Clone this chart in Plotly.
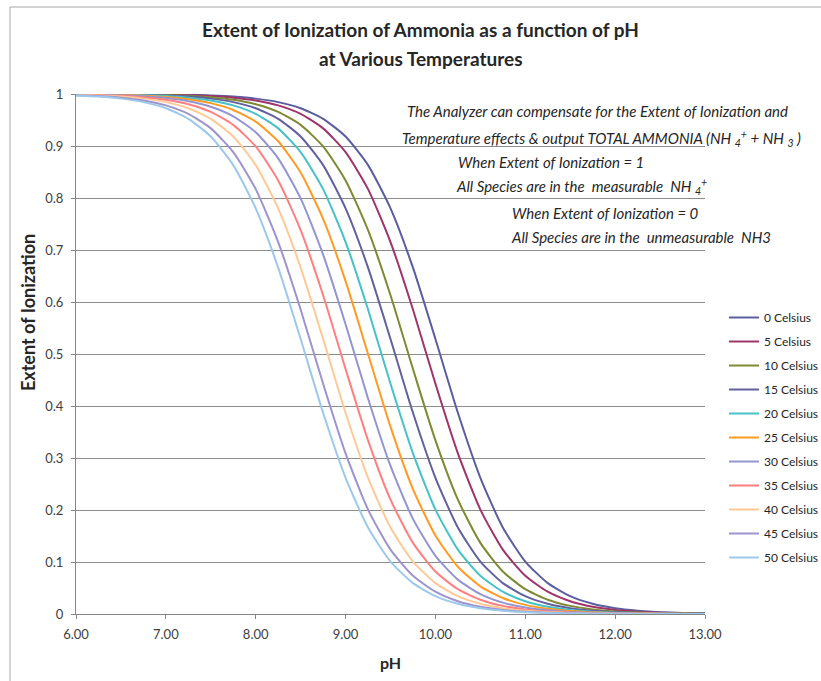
import plotly.graph_objects as go

# ---------------- data ----------------
ph = [6.00, 6.25, 6.50, 6.75, 7.00, 7.25, 7.50, 7.75, 8.00, 8.25, 8.50, 8.75,
      9.00, 9.25, 9.50, 9.75, 10.00, 10.25, 10.50, 10.75, 11.00, 11.25, 11.50,
      11.75, 12.00, 12.25, 12.50, 12.75, 13.00]

series_names = ["0 Celsius", "5 Celsius", "10 Celsius", "15 Celsius", "20 Celsius",
                "25 Celsius", "30 Celsius", "35 Celsius", "40 Celsius", "45 Celsius",
                "50 Celsius"]

c0 = [0.9999, 0.9998, 0.9997, 0.9995, 0.9991, 0.9984, 0.9972, 0.9950, 0.9911, 0.9844,
      0.9726, 0.9523, 0.9182, 0.8632, 0.7801, 0.6661, 0.5288, 0.3869, 0.2619, 0.1663,
      0.1009, 0.0594, 0.0343, 0.0196, 0.0111, 0.0063, 0.0035, 0.0020, 0.0011]
c5 = [0.9999, 0.9998, 0.9996, 0.9993, 0.9987, 0.9978, 0.9960, 0.9930, 0.9876, 0.9781,
      0.9617, 0.9339, 0.8882, 0.8171, 0.7153, 0.5855, 0.4427, 0.3088, 0.2008, 0.1238,
      0.0736, 0.0428, 0.0245, 0.0139, 0.0079, 0.0045, 0.0025, 0.0014, 0.0008]
c10 = [0.9998, 0.9996, 0.9994, 0.9989, 0.9980, 0.9965, 0.9937, 0.9889, 0.9804, 0.9657,
       0.9406, 0.8991, 0.8337, 0.7381, 0.6131, 0.4712, 0.3339, 0.2199, 0.1368, 0.0818,
       0.0477, 0.0274, 0.0156, 0.0089, 0.0050, 0.0028, 0.0016, 0.0009, 0.0005]
c15 = [0.9997, 0.9995, 0.9991, 0.9984, 0.9972, 0.9950, 0.9911, 0.9844, 0.9726, 0.9523,
       0.9182, 0.8632, 0.7801, 0.6661, 0.5288, 0.3869, 0.2619, 0.1663, 0.1009, 0.0594,
       0.0343, 0.0196, 0.0111, 0.0063, 0.0035, 0.0020, 0.0011, 0.0006, 0.0004]
c20 = [0.9996, 0.9993, 0.9987, 0.9978, 0.9960, 0.9930, 0.9876, 0.9781, 0.9617, 0.9339,
       0.8882, 0.8171, 0.7153, 0.5855, 0.4427, 0.3088, 0.2008, 0.1238, 0.0736, 0.0428,
       0.0245, 0.0139, 0.0079, 0.0045, 0.0025, 0.0014, 0.0008, 0.0004, 0.0003]
c25 = [0.9994, 0.9990, 0.9982, 0.9968, 0.9944, 0.9901, 0.9825, 0.9693, 0.9468, 0.9091,
       0.8490, 0.7597, 0.6401, 0.5000, 0.3599, 0.2403, 0.1510, 0.0909, 0.0532, 0.0307,
       0.0175, 0.0099, 0.0056, 0.0032, 0.0018, 0.0010, 0.0006, 0.0003, 0.0002]
c30 = [0.9992, 0.9986, 0.9975, 0.9955, 0.9921, 0.9861, 0.9755, 0.9572, 0.9264, 0.8762,
       0.7992, 0.6912, 0.5573, 0.4145, 0.2847, 0.1829, 0.1118, 0.0661, 0.0383, 0.0219,
       0.0124, 0.0070, 0.0040, 0.0022, 0.0013, 0.0007, 0.0004, 0.0002, 0.0001]
c35 = [0.9989, 0.9980, 0.9965, 0.9937, 0.9889, 0.9804, 0.9657, 0.9406, 0.8991, 0.8337,
       0.7381, 0.6131, 0.4712, 0.3339, 0.2199, 0.1368, 0.0818, 0.0477, 0.0274, 0.0156,
       0.0089, 0.0050, 0.0028, 0.0016, 0.0009, 0.0005, 0.0003, 0.0002, 0.0001]
c40 = [0.9984, 0.9972, 0.9950, 0.9911, 0.9844, 0.9726, 0.9523, 0.9182, 0.8632, 0.7801,
       0.6661, 0.5288, 0.3869, 0.2619, 0.1663, 0.1009, 0.0594, 0.0343, 0.0196, 0.0111,
       0.0063, 0.0035, 0.0020, 0.0011, 0.0006, 0.0004, 0.0002, 0.0001, 0.0001]
c45 = [0.9978, 0.9960, 0.9930, 0.9876, 0.9781, 0.9617, 0.9339, 0.8882, 0.8171, 0.7153,
       0.5855, 0.4427, 0.3088, 0.2008, 0.1238, 0.0736, 0.0428, 0.0245, 0.0139, 0.0079,
       0.0045, 0.0025, 0.0014, 0.0008, 0.0004, 0.0003, 0.0001, 0.0001, 0.0000]
c50 = [0.9972, 0.9950, 0.9911, 0.9844, 0.9726, 0.9523, 0.9182, 0.8632, 0.7801, 0.6661,
       0.5288, 0.3869, 0.2619, 0.1663, 0.1009, 0.0594, 0.0343, 0.0196, 0.0111, 0.0063,
       0.0035, 0.0020, 0.0011, 0.0006, 0.0004, 0.0002, 0.0001, 0.0001, 0.0000]

series_values = [c0, c5, c10, c15, c20, c25, c30, c35, c40, c45, c50]

x_ticks = [6, 7, 8, 9, 10, 11, 12, 13]
x_tick_labels = ["6.00", "7.00", "8.00", "9.00", "10.00", "11.00", "12.00", "13.00"]
y_ticks = [0, 0.1, 0.2, 0.3, 0.4, 0.5, 0.6, 0.7, 0.8, 0.9, 1]
y_tick_labels = ["0", "0.1", "0.2", "0.3", "0.4", "0.5", "0.6", "0.7", "0.8", "0.9", "1"]

# ---------------- styling ----------------
colors = ["#5C5CA0", "#9E3468", "#7E8A32", "#62609E", "#45C1C8", "#FF9A22",
          "#9494D2", "#FF7F80", "#FFC996", "#9D93CD", "#9CC8EA"]

FONT = "Lato, 'Open Sans', sans-serif"
W, H = 821, 681
ML, MR, MT, MB = 76, 116, 94, 67
PW, PH = W - ML - MR, H - MT - MB


def px(x):
    return (x - ML) / PW


def py(y):
    return (H - MB - y) / PH


fig = go.Figure()
for name, vals, col in zip(series_names, series_values, colors):
    fig.add_trace(go.Scatter(
        x=ph, y=vals, mode="lines", name=name, legendgroup=name,
        line=dict(color=col, width=2, shape="spline", smoothing=0.6),
    ))

annotations = []
# title
annotations.append(dict(text="<b>Extent of Ionization of Ammonia as a function of pH</b>",
                        x=px(420), y=py(29), xref="paper", yref="paper", showarrow=False,
                        xanchor="center", yanchor="middle",
                        font=dict(family=FONT, size=19, color="#262626")))
annotations.append(dict(text="<b>at Various Temperatures</b>",
                        x=px(420), y=py(58), xref="paper", yref="paper", showarrow=False,
                        xanchor="center", yanchor="middle",
                        font=dict(family=FONT, size=19, color="#262626")))
# y-axis title (sits above the plot's centre, as in the reference)
annotations.append(dict(text="<b>Extent of Ionization</b>", textangle=-90,
                        x=px(28), y=py(313), xref="paper", yref="paper", showarrow=False,
                        xanchor="center", yanchor="middle",
                        font=dict(family=FONT, size=18, color="#262626")))

notes = [
    ("<i>The Analyzer can compensate for the Extent of Ionization and</i>", 405, 111),
    ("<i>Temperature effects &amp; output TOTAL AMMONIA (NH <sub>4</sub><sup>+</sup> + NH <sub>3</sub> )</i>", 400, 138),
    ("<i>When Extent of Ionization = 1</i>", 456, 162),
    ("<i>All Species are in the  measurable  NH <sub>4</sub><sup>+</sup></i>", 454, 186),
    ("<i>When Extent of Ionization = 0</i>", 510, 213),
    ("<i>All Species are in the  unmeasurable  NH3</i>", 509, 237),
]
for txt, xx, yy in notes:
    annotations.append(dict(text=txt, x=px(xx), y=py(yy), xref="paper", yref="paper",
                            showarrow=False, xanchor="left", yanchor="middle",
                            font=dict(family=FONT, size=15, color="#262626")))

shapes = [
    dict(type="line", xref="paper", yref="paper", x0=px(10), x1=px(821), y0=py(7), y1=py(7),
         line=dict(color="#A6A6A6", width=1)),
    dict(type="line", xref="paper", yref="paper", x0=px(10), x1=px(10), y0=py(7), y1=py(681),
         line=dict(color="#A6A6A6", width=1)),
]

fig.update_layout(
    width=W, height=H,
    margin=dict(l=ML, r=MR, t=MT, b=MB, autoexpand=False),
    paper_bgcolor="white", plot_bgcolor="white",
    font=dict(family=FONT, size=12, color="#404040"),
    showlegend=True,
    legend=dict(x=px(724), y=py(303), xanchor="left", yanchor="top",
                font=dict(family=FONT, size=12, color="#262626"),
                tracegroupgap=5, itemwidth=30, bgcolor="rgba(0,0,0,0)"),
    annotations=annotations,
    shapes=shapes,
)
fig.update_xaxes(range=[6, 13], tickvals=x_ticks, ticktext=x_tick_labels,
                 showgrid=False, showline=True, linecolor="#868686", linewidth=1,
                 ticks="outside", ticklen=4, tickcolor="#868686", zeroline=False,
                 ticklabelstandoff=4,
                 tickfont=dict(family=FONT, size=13, color="#404040"),
                 title=dict(text="<b>pH</b>", font=dict(family=FONT, size=16, color="#262626"),
                            standoff=17))
fig.update_yaxes(range=[0, 1], tickvals=y_ticks, ticktext=y_tick_labels,
                 showgrid=True, gridcolor="#8C8C8C", gridwidth=1,
                 showline=True, linecolor="#868686", linewidth=1,
                 ticks="outside", ticklen=4, tickcolor="#868686", zeroline=False,
                 ticklabelstandoff=5,
                 tickfont=dict(family=FONT, size=13, color="#404040"))

fig.write_html("out.html", config={"displayModeBar": False},
               post_script="document.body.style.margin='0px';"
                           "document.body.style.overflow='hidden';")
